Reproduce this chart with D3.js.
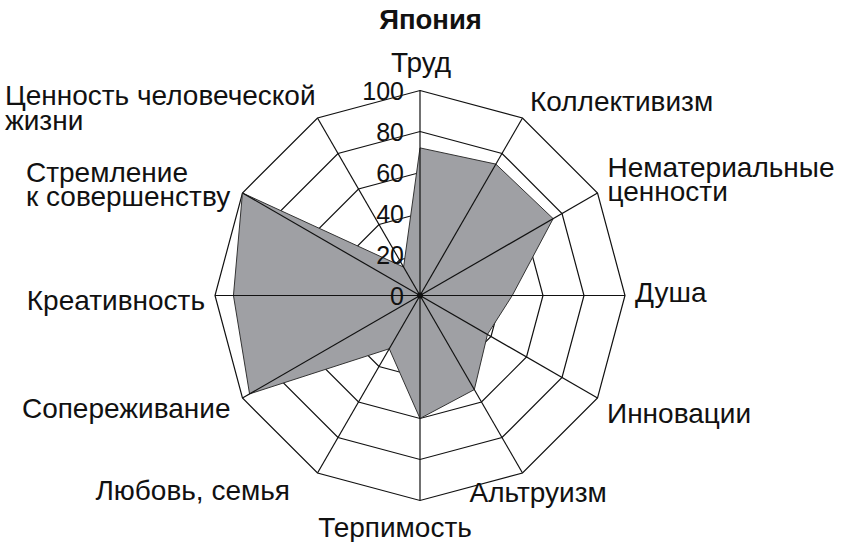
<!DOCTYPE html>
<html>
<head>
<meta charset="utf-8">
<script src="https://cdn.jsdelivr.net/npm/d3@7"></script>
<style>
  body { margin: 0; background: #fff; }
  text { font-family: "Liberation Sans", Arial, sans-serif; fill: #111; }
</style>
</head>
<body>
<svg id="chart" width="845" height="542"></svg>
<script>
// data
var title = "Япония";
var categories = [
  ["Труд"], ["Коллективизм"], ["Нематериальные", "ценности"], ["Душа"],
  ["Инновации"], ["Альтруизм"], ["Терпимость"], ["Любовь, семья"],
  ["Сопереживание"], ["Креативность"], ["Стремление", "к совершенству"],
  ["Ценность человеческой", "жизни"]
];
var values = [72, 74, 75, 45, 38, 53, 60, 30, 96, 91, 100, 16];
var ticks = [0, 20, 40, 60, 80, 100];

// label placement relative to the outer vertex: anchor, dx, dy
var labelPos = [
  ["middle", 1, -18.5], ["start", 7.5, -6.5], ["start", 10, -16.5], ["start", 10, 6.5],
  ["start", 9.5, 25], ["start", -53, 29], ["middle", -25, 36.5], ["end", -27.5, 27],
  ["end", -12, 20], ["end", -10, 14], ["start", -216.5, -11.5], ["start", -312.5, -12.5]
];

var cx = 420, cy = 295.5, R = 205;
var svg = d3.select("#chart");
var g = svg.append("g").attr("transform", "translate(" + cx + "," + cy + ")");

var r = d3.scaleLinear().domain([0, 100]).range([0, R]);
var angle = d3.scaleLinear().domain([0, categories.length]).range([0, 2 * Math.PI]);

function pt(i, v) {
  var a = angle(i);
  return [Math.sin(a) * r(v), -Math.cos(a) * r(v)];
}

// rings
var rings = ticks.filter(function (t) { return t > 0; });
g.selectAll("path.ring")
  .data(rings)
  .enter().append("path")
  .attr("class", "ring")
  .attr("d", function (t) {
    return d3.line()(categories.map(function (c, i) { return pt(i, t); })) + "Z";
  })
  .attr("fill", "none")
  .attr("stroke", "#111")
  .attr("stroke-width", 1.2);

// data polygon
var radar = d3.lineRadial()
  .angle(function (d, i) { return angle(i); })
  .radius(function (d) { return r(d); })
  .curve(d3.curveLinearClosed);

g.append("path")
  .datum(values)
  .attr("d", radar)
  .attr("fill", "#9fa0a4")
  .attr("stroke", "#333")
  .attr("stroke-width", 1);

// spokes
g.selectAll("line.spoke")
  .data(categories)
  .enter().append("line")
  .attr("class", "spoke")
  .attr("x1", 0).attr("y1", 0)
  .attr("x2", function (d, i) { return pt(i, 100)[0]; })
  .attr("y2", function (d, i) { return pt(i, 100)[1]; })
  .attr("stroke", "#111")
  .attr("stroke-width", 1.2);

g.append("circle").attr("r", 3).attr("fill", "#111");

// tick labels
g.selectAll("text.tick")
  .data(ticks)
  .enter().append("text")
  .attr("class", "tick")
  .attr("x", -16)
  .attr("y", function (t) { return -r(t); })
  .attr("dy", "0.36em")
  .attr("text-anchor", "end")
  .style("font-size", "25px")
  .text(function (t) { return t; });

// category labels
var lab = g.selectAll("text.cat")
  .data(categories)
  .enter().append("text")
  .attr("class", "cat")
  .attr("text-anchor", function (d, i) { return labelPos[i][0]; })
  .attr("transform", function (d, i) {
    var p = pt(i, 100);
    return "translate(" + (p[0] + labelPos[i][1]) + "," + (p[1] + labelPos[i][2]) + ")";
  })
  .style("font-size", "28px");

lab.selectAll("tspan")
  .data(function (d) { return d; })
  .enter().append("tspan")
  .attr("x", 0)
  .attr("dy", function (d, j) { return j === 0 ? 0 : 24.5; })
  .text(function (d) { return d; });

svg.append("text")
  .attr("x", 430.5)
  .attr("y", 28.5)
  .attr("text-anchor", "middle")
  .style("font-size", "27.5px")
  .style("font-weight", "bold")
  .text(title);
</script>
</body>
</html>
